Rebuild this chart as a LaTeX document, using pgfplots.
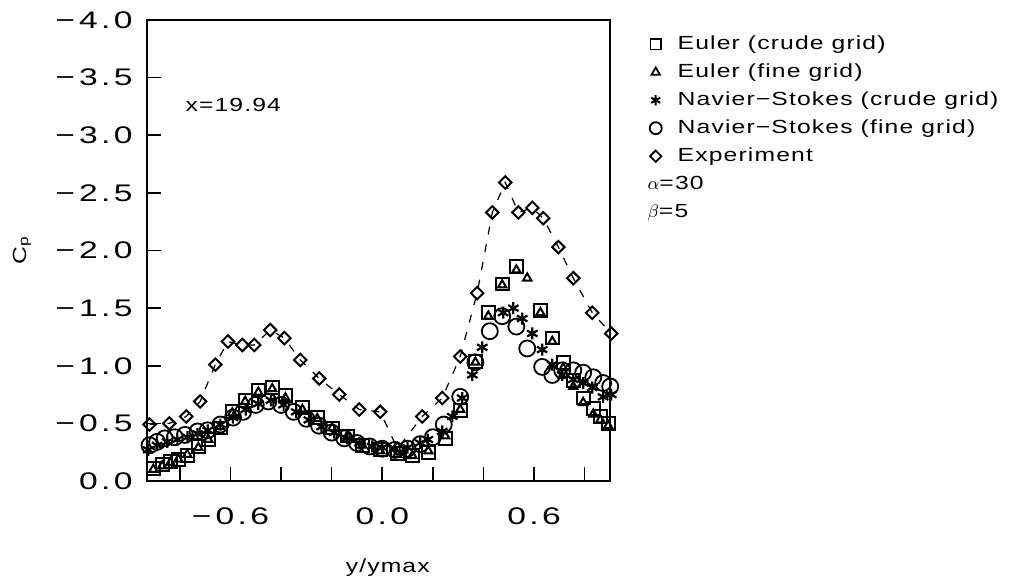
\documentclass[border=0pt]{standalone}
\usepackage{fontspec}
\setmainfont{Liberation Sans}[FakeStretch=1.3, LetterSpace=6]
\newfontfamily\tickfont[FakeStretch=1.4, LetterSpace=14]{Liberation Sans}
\usepackage{pgfplots}
\pgfplotsset{compat=1.18}
\begin{document}
\begin{tikzpicture}
\useasboundingbox (-73.5pt,-51pt) rectangle (435.5pt,240.5pt);
\begin{axis}[
  scale only axis, width=231.5pt, height=230.5pt,
  xmin=-0.93, xmax=0.90, ymin=-4, ymax=0, y dir=reverse,
  axis line style={line width=1.2pt},
  tick style={line width=0.8pt, black},
  major tick length=7pt,
  tick align=inside,
  xtick pos=bottom, ytick pos=left,
  xtick={-0.8,-0.6,-0.4,-0.2,0,0.2,0.4,0.6,0.8},
  xticklabels={,−\,0.6,,,0.0,,,0.6,},
  ytick={-4,-3.5,-3,-2.5,-2,-1.5,-1,-0.5,0},
  yticklabels={−\,4.0,−\,3.5,−\,3.0,−\,2.5,−\,2.0,−\,1.5,−\,1.0,−\,0.5,0.0},
  ticklabel style={font=\tickfont\fontsize{12}{13}\selectfont},
  xticklabel style={yshift=-10pt},
  yticklabel style={xshift=-3.7pt},
  xlabel={y/ymax}, ylabel={C\textsubscript{p}},
  label style={font=\fontsize{9.5}{11}\selectfont},
  xlabel style={at={(axis description cs:0.52,-0.187)}, anchor=center},
  ylabel style={at={(axis description cs:-0.27,0.5)}, anchor=center},
  clip=false,
  legend style={draw=none, fill=none, at={(axis description cs:1.085,0.975)}, anchor=north west,
    font=\fontsize{9.5}{11}\selectfont, row sep=1.6pt, column sep=6pt, inner sep=0pt},
  legend cell align=left,
]
\addlegendimage{only marks, mark=square, mark size=2.6pt, line width=0.9pt}
\addlegendentry{Euler (crude grid)}
\addlegendimage{only marks, mark=triangle, mark size=2.4pt, line width=0.9pt}
\addlegendentry{Euler (fine grid)}
\addlegendimage{only marks, mark=asterisk, mark size=2.6pt, line width=1pt}
\addlegendentry{Navier−Stokes (crude grid)}
\addlegendimage{only marks, mark=o, mark size=3pt, line width=0.9pt}
\addlegendentry{Navier−Stokes (fine grid)}
\addlegendimage{only marks, mark=square, mark options={rotate=45}, mark size=2pt, line width=0.9pt}
\addlegendentry{Experiment}

% Experiment
\addplot[forget plot, black, line width=0.6pt, dash pattern=on 4pt off 5pt,
  mark=square, mark size=2.2pt, mark options={rotate=45, solid, fill=white, line width=1pt}]
coordinates {
(-0.920,-0.49) (-0.842,-0.50) (-0.775,-0.56) (-0.720,-0.69) (-0.660,-1.01)
(-0.610,-1.21) (-0.553,-1.18) (-0.506,-1.18) (-0.443,-1.31) (-0.387,-1.24)
(-0.324,-1.05) (-0.249,-0.89) (-0.170,-0.75) (-0.091,-0.62) (-0.008,-0.60)
(0.060,-0.28) (0.158,-0.56) (0.237,-0.72) (0.308,-1.08) (0.375,-1.63)
(0.435,-2.33) (0.486,-2.59) (0.538,-2.33) (0.593,-2.37) (0.636,-2.28)
(0.696,-2.03) (0.755,-1.76) (0.830,-1.46) (0.905,-1.28)
};

% Navier-Stokes fine grid (circles)
\addplot[forget plot, only marks, black, mark=o, mark size=4pt, mark options={line width=0.9pt}]
coordinates {
(-0.920,-0.31) (-0.890,-0.34) (-0.860,-0.37) (-0.820,-0.38) (-0.780,-0.40)
(-0.730,-0.43) (-0.690,-0.44) (-0.640,-0.49) (-0.590,-0.55) (-0.550,-0.60)
(-0.500,-0.66) (-0.450,-0.69) (-0.400,-0.66) (-0.350,-0.60) (-0.300,-0.54)
(-0.250,-0.48) (-0.200,-0.42) (-0.150,-0.37) (-0.100,-0.33) (-0.050,-0.30)
(0.000,-0.28) (0.050,-0.27) (0.100,-0.28) (0.150,-0.32) (0.200,-0.38)
(0.243,-0.49) (0.308,-0.73) (0.368,-1.03) (0.425,-1.30) (0.474,-1.43)
(0.530,-1.34) (0.573,-1.15) (0.632,-0.99) (0.672,-0.92) (0.711,-0.96)
(0.755,-0.96) (0.794,-0.94) (0.834,-0.90) (0.873,-0.85) (0.901,-0.82)
};

% Navier-Stokes crude grid (asterisks)
\addplot[forget plot, only marks, black, mark=asterisk, mark size=3pt, mark options={line width=1.1pt}]
coordinates {
(-0.925,-0.27) (-0.890,-0.31) (-0.850,-0.34) (-0.810,-0.36) (-0.770,-0.38)
(-0.730,-0.41) (-0.690,-0.44) (-0.640,-0.49) (-0.590,-0.55) (-0.540,-0.62)
(-0.490,-0.67) (-0.440,-0.70) (-0.390,-0.66) (-0.340,-0.60) (-0.290,-0.53)
(-0.240,-0.47) (-0.190,-0.42) (-0.140,-0.37) (-0.090,-0.33) (-0.040,-0.30)
(0.000,-0.29) (0.050,-0.28) (0.100,-0.29) (0.150,-0.33) (0.180,-0.36)
(0.237,-0.43) (0.277,-0.56) (0.316,-0.72) (0.356,-0.92) (0.395,-1.16)
(0.478,-1.46) (0.518,-1.50) (0.553,-1.41) (0.593,-1.28) (0.632,-1.14)
(0.672,-1.01) (0.711,-0.92) (0.755,-0.88) (0.794,-0.85) (0.830,-0.81)
(0.873,-0.73) (0.905,-0.75)
};

% Euler crude grid (squares)
\addplot[forget plot, only marks, black, mark=square, mark size=3.2pt, mark options={line width=1pt}]
coordinates {
(-0.905,-0.11) (-0.870,-0.14) (-0.838,-0.17) (-0.806,-0.19) (-0.771,-0.22)
(-0.727,-0.30) (-0.688,-0.36) (-0.640,-0.46) (-0.593,-0.60) (-0.542,-0.70)
(-0.490,-0.79) (-0.435,-0.81) (-0.383,-0.74) (-0.316,-0.64) (-0.257,-0.55)
(-0.198,-0.46) (-0.138,-0.39) (-0.079,-0.31) (-0.008,-0.27) (0.059,-0.24)
(0.119,-0.22) (0.182,-0.25) (0.249,-0.37) (0.308,-0.61) (0.368,-1.04)
(0.419,-1.46) (0.474,-1.71) (0.530,-1.86) (0.625,-1.48) (0.672,-1.24)
(0.715,-1.03) (0.755,-0.87) (0.794,-0.72) (0.834,-0.63) (0.862,-0.56)
(0.893,-0.50)
};

% Euler fine grid (triangles)
\addplot[forget plot, only marks, black, mark=triangle, mark size=2.4pt, mark options={line width=1pt}]
coordinates {
(-0.905,-0.10) (-0.870,-0.13) (-0.838,-0.16) (-0.806,-0.19) (-0.771,-0.23)
(-0.727,-0.29) (-0.688,-0.36) (-0.640,-0.47) (-0.593,-0.59) (-0.542,-0.69)
(-0.490,-0.77) (-0.435,-0.80) (-0.383,-0.72) (-0.316,-0.62) (-0.257,-0.54)
(-0.198,-0.46) (-0.138,-0.39) (-0.079,-0.31) (-0.008,-0.26) (0.059,-0.23)
(0.119,-0.22) (0.182,-0.26) (0.249,-0.39) (0.308,-0.62) (0.368,-1.03)
(0.419,-1.43) (0.474,-1.70) (0.530,-1.83) (0.573,-1.76) (0.625,-1.46)
(0.672,-1.21) (0.715,-0.98) (0.755,-0.82) (0.794,-0.68) (0.834,-0.58)
(0.862,-0.53) (0.893,-0.48)
};

\node[anchor=west, font=\fontsize{9.5}{11}\selectfont] at (axis description cs:0.068,0.816) {x=19.94};
\node[anchor=west, font=\fontsize{9.5}{11}\selectfont] at (axis description cs:1.066,0.646) {$\alpha$=30};
\node[anchor=west, font=\fontsize{9.5}{11}\selectfont] at (axis description cs:1.066,0.583) {$\beta$=5};
\end{axis}
\end{tikzpicture}
\end{document}
